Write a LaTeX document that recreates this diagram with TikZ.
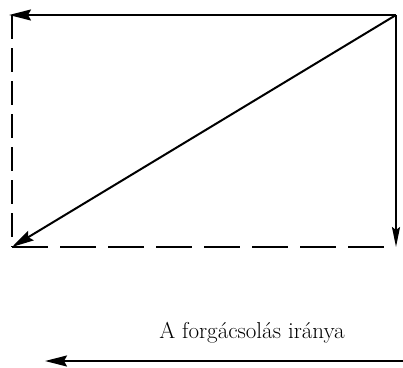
\documentclass[tikz,border=0pt]{standalone}
\usetikzlibrary{arrows.meta}
\begin{document}
\begin{tikzpicture}[x=1pt,y=-1pt,
    vec/.style={line width=2pt,-{Stealth[length=22pt,width=11pt,inset=3pt]}},
    helper/.style={line width=1.5pt,dash pattern=on 36pt off 12pt}]

    \useasboundingbox (0,0) rectangle (403,367);

    % Corners of the parallelogram
    \coordinate (tl) at (12,15);
    \coordinate (tr) at (396,15);
    \coordinate (bl) at (12,247);
    \coordinate (br) at (396,247);

    % Dashed sides
    \draw[helper] (bl) -- (br);
    \draw[helper,dash pattern=on 24pt off 9pt] (tl) -- (bl);

    % Vectors
    \draw[vec,shorten >=-3pt] (tr) -- (tl);
    \draw[vec] (tr) -- (bl);
    \draw[vec,-{Stealth[length=20pt,width=8pt,inset=3pt]}] (tr) -- (br);

    % Direction of cutting
    \node[anchor=base,font=\fontsize{23}{27}\selectfont] (label) at (252,338) {A forgácsolás iránya};
    \coordinate (dirstart) at (403,361);
    \coordinate (dirend) at (45,361);
    \draw[vec] (dirstart) -- (dirend);

\end{tikzpicture}
\end{document}
